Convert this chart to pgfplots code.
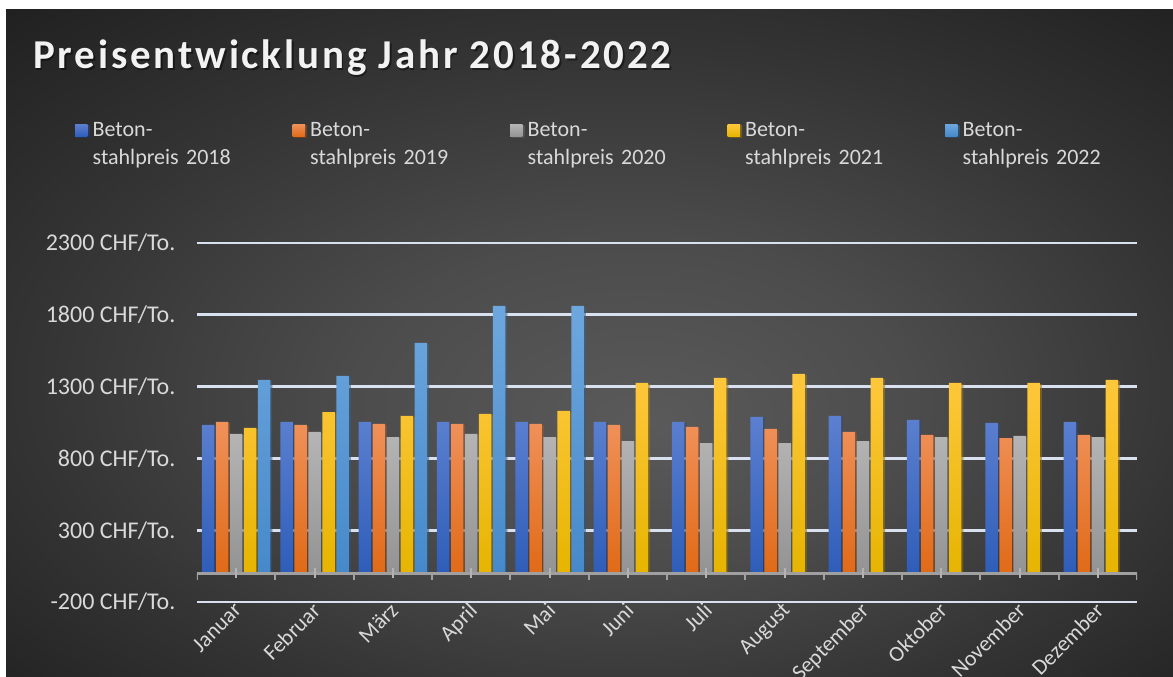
\documentclass[border=0pt]{standalone}
\usepackage{fontspec}
\setmainfont{Carlito}
\newfontfamily\titlefont[LetterSpace=7]{Carlito}
\usepackage{pgfplots}
\pgfplotsset{compat=1.18}
\usetikzlibrary{shadows}

\definecolor{bgA}{HTML}{5A5A5A}
\definecolor{bgB}{HTML}{4C4C4C}
\definecolor{bgC}{HTML}{343434}
\definecolor{bgD}{HTML}{1F1F1F}
\definecolor{titlec}{HTML}{F2F2F2}
\definecolor{labelc}{HTML}{D9D9D9}
\definecolor{gridc}{HTML}{D9E1F0}
\definecolor{axisc}{HTML}{A0A0A0}

\definecolor{aT}{HTML}{5C80D0}\definecolor{aM}{HTML}{4472C4}\definecolor{aB}{HTML}{2E5DB9}
\definecolor{bT}{HTML}{F0915A}\definecolor{bM}{HTML}{ED7D31}\definecolor{bB}{HTML}{E06A17}
\definecolor{cT}{HTML}{B5B5B5}\definecolor{cM}{HTML}{A5A5A5}\definecolor{cB}{HTML}{939393}
\definecolor{dT}{HTML}{FFC83D}\definecolor{dM}{HTML}{FFC000}\definecolor{dB}{HTML}{E6B400}
\definecolor{eT}{HTML}{6EA7DE}\definecolor{eM}{HTML}{5B9BD5}\definecolor{eB}{HTML}{4689CA}

\pgfdeclareradialshading{bgshade}{\pgfpoint{2.5bp}{-6bp}}{color(0bp)=(bgA); color(12bp)=(bgB); color(25bp)=(bgC); color(38bp)=(bgD); color(50bp)=(bgD)}

\tikzset{barshadow/.style={drop shadow={shadow xshift=2pt, shadow yshift=-1pt, opacity=0.35, fill=black}}}

\begin{document}
\begin{tikzpicture}
\useasboundingbox (0,0) rectangle (1173pt,677pt);
\fill[white] (0,0) rectangle (1173pt,677pt);
\shade[shading=bgshade] (6pt,0) rectangle (1173pt,667pt);

\node[anchor=base west, inner sep=0pt, text=black, opacity=0.45] at (34.5pt,606.5pt)
  {\titlefont\bfseries\fontsize{41}{47}\selectfont Preisentwicklung Jahr 2018-2022};
\node[anchor=base west, inner sep=0pt, text=titlec] at (33pt,608pt)
  {\titlefont\bfseries\fontsize{41}{47}\selectfont Preisentwicklung Jahr 2018-2022};

\begin{axis}[
  at={(197pt,75pt)}, anchor=south west,
  scale only axis, width=940pt, height=359pt,
  xmin=-0.5, xmax=11.5, ymin=-200, ymax=2300,
  ybar=1.5pt, bar width=12.5pt,
  xtick={0,...,11},
  xticklabels={Januar,Februar,März,April,Mai,Juni,Juli,August,September,Oktober,November,Dezember},
  ytick={-200,300,800,1300,1800,2300},
  yticklabels={-200 CHF/To.,300 CHF/To.,800 CHF/To.,1300 CHF/To.,1800 CHF/To.,2300 CHF/To.},
  axis line style={draw=none}, major tick length=0pt,
  ymajorgrids, grid style={color=gridc, line width=2.8pt},
  yticklabel style={font=\fontsize{24}{28}\selectfont, text=labelc, anchor=east, xshift=-18pt},
  xticklabel style={font=\fontsize{22}{26}\selectfont, text=labelc, rotate=45, anchor=north east, inner sep=0pt, yshift=3pt, xshift=-2pt},
  legend style={at={(-0.1298,1.3355)}, anchor=north west, draw=none, fill=none, inner sep=0pt,
    font=\fontsize{22}{28}\selectfont, text=labelc,
    nodes={text width=200pt, align=left, inner xsep=0pt, inner ysep=0pt},
    /tikz/every odd column/.append style={column sep=5pt},
    /tikz/every even column/.append style={column sep=0pt}},
  legend columns=5, legend cell align=left,
  legend image code/.code={\fill[#1] (0pt,-6pt) rectangle (12.5pt,6.5pt);},
]
\addplot[draw=none, barshadow, top color=aT, middle color=aM, bottom color=aB] coordinates
 {(0,1033) (1,1054) (2,1054) (3,1054) (4,1054) (5,1054) (6,1054) (7,1089) (8,1096) (9,1068) (10,1047) (11,1054)};
\addplot[draw=none, barshadow, top color=bT, middle color=bM, bottom color=bB] coordinates
 {(0,1054) (1,1033) (2,1040) (3,1040) (4,1040) (5,1033) (6,1019) (7,1005) (8,984) (9,963) (10,942) (11,963)};
\addplot[draw=none, barshadow, top color=cT, middle color=cM, bottom color=cB] coordinates
 {(0,970) (1,984) (2,949) (3,970) (4,949) (5,921) (6,907) (7,907) (8,921) (9,949) (10,956) (11,949)};
\addplot[draw=none, barshadow, top color=dT, middle color=dM, bottom color=dB] coordinates
 {(0,1012) (1,1123) (2,1096) (3,1110) (4,1131) (5,1326) (6,1360) (7,1388) (8,1360) (9,1326) (10,1326) (11,1346)};
\addplot[draw=none, barshadow, top color=eT, middle color=eM, bottom color=eB] coordinates
 {(0,1346) (1,1374) (2,1604) (3,1862) (4,1862)};
\legend{Beton-\\stahlpreis 2018,Beton-\\stahlpreis 2019,Beton-\\stahlpreis 2020,Beton-\\stahlpreis 2021,Beton-\\stahlpreis 2022}

\draw[axisc, line width=2.5pt] (axis cs:-0.5,0) -- (axis cs:11.5,0);
\pgfplotsinvokeforeach{0,...,12}{
  \draw[axisc, line width=2pt] (axis cs:#1-0.5,0) -- ++(0pt,-7pt);
}
\pgfplotsinvokeforeach{0,...,11}{
  \draw[axisc!80!white, line width=2pt] ([yshift=5pt]axis cs:#1,0) -- ++(0pt,-10pt);
}
\end{axis}
\end{tikzpicture}
\end{document}
